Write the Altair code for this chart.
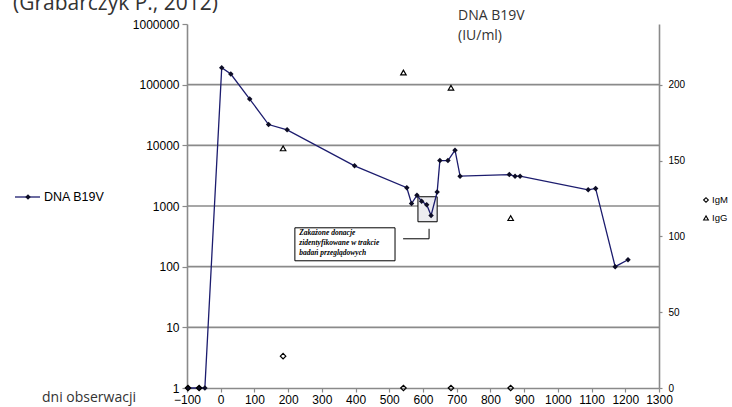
import altair as alt
import pandas as pd

# ---- data ----
dna_day = [-97, -64, -47, 3, 30, 86, 142, 197, 397, 552, 566, 582, 596, 611, 624, 642, 650, 674, 695, 710, 856, 873, 888, 1090, 1112, 1170, 1208]
dna_val = [1, 1, 1, 190000, 150000, 58000, 22000, 18000, 4600, 2000, 1100, 1500, 1200, 1050, 700, 1700, 5600, 5600, 8300, 3100, 3300, 3100, 3100, 1850, 1950, 100, 130]

igm_day = [-97, -64, 185, 542, 683, 860]
igm_val = [0, 0, 21, 0, 0, 0]
igg_day = [185, 542, 683, 860]
igg_val = [158, 208, 198, 112]

x_ticks = list(range(-100, 1301, 100))
left_ticks = [1, 10, 100, 1000, 10000, 100000, 1000000]
right_ticks = [0, 50, 100, 150, 200]
grid_vals = [10, 100, 1000, 10000, 100000]

# annotation (in data units)
box_day = [585, 642]
box_val = [550, 1420]
note_day = [220, 517]
note_val = [125, 437]
note_lines = ["Zakażone donacje", "zidentyfikowane w trakcie", "badań przeglądowych"]
note_line_val = [361, 247, 169]
note_text_day = 233
lead_day = [541, 618]
lead_val = [288, 421]

GRAY = "#8a8a8a"
FONT = "Liberation Sans"
SANS2 = "Open Sans"

xscale = alt.Scale(domain=[-100, 1300], nice=False, zero=False)
X = alt.X("day:Q", scale=xscale, title=None,
          axis=alt.Axis(values=x_ticks, format="d", domainColor=GRAY, domainWidth=1.6,
                        tickColor=GRAY, tickSize=4, tickWidth=1.2, labelFontSize=12,
                        labelFont=FONT, labelColor="black", labelPadding=2, grid=False,
                        labelFlush=False))
lscale = alt.Scale(type="log", domain=[1, 1000000], nice=False)
YL = alt.Y("val:Q", scale=lscale, title=None,
           axis=alt.Axis(values=left_ticks, format="d", domainColor=GRAY, domainWidth=1.6,
                         tickColor=GRAY, tickSize=5, tickWidth=1.2, labelFontSize=12,
                         labelFont=FONT, labelColor="black", labelPadding=3, grid=False))

dna = pd.DataFrame({"day": dna_day, "val": dna_val})
grid = pd.DataFrame({"val": grid_vals})
box = pd.DataFrame({"day": [box_day[0]], "day2": [box_day[1]], "val": [box_val[0]], "val2": [box_val[1]]})
note = pd.DataFrame({"day": [note_day[0]], "day2": [note_day[1]], "val": [note_val[0]], "val2": [note_val[1]]})
notetxt = pd.DataFrame({"day": [note_text_day] * 3, "val": note_line_val, "t": note_lines})
lead_v = pd.DataFrame({"day": [lead_day[1]], "val": [lead_val[0]], "val2": [lead_val[1]]})
lead_h = pd.DataFrame({"day": [lead_day[0]], "day2": [lead_day[1]], "val": [lead_val[0]]})

grid_l = alt.Chart(grid).mark_rule(color=GRAY, strokeWidth=1.6).encode(y=YL)
box_l = alt.Chart(box).mark_rect(fill="#ececf0", stroke="black", strokeWidth=1).encode(
    x=X, x2="day2:Q", y=YL, y2="val2:Q")
note_l = alt.Chart(note).mark_rect(fill="white", stroke="black", strokeWidth=1).encode(
    x=X, x2="day2:Q", y=YL, y2="val2:Q")
leadv_l = alt.Chart(lead_v).mark_rule(color="black", strokeWidth=1).encode(x=X, y=YL, y2="val2:Q")
leadh_l = alt.Chart(lead_h).mark_rule(color="black", strokeWidth=1).encode(x=X, x2="day2:Q", y=YL)
notetxt_l = alt.Chart(notetxt).mark_text(align="left", baseline="middle", font="Liberation Serif",
                                         fontSize=7.5, fontWeight="bold", fontStyle="italic",
                                         color="black").encode(x=X, y=YL, text="t:N")
line_l = alt.Chart(dna).mark_line(color="#1c1c6e", strokeWidth=1.3).encode(x=X, y=YL)
pts_l = alt.Chart(dna).mark_point(shape="diamond", filled=True, color="#0d0d26", size=30, opacity=1).encode(x=X, y=YL)

left = alt.layer(grid_l, box_l, line_l, pts_l, note_l, leadv_l, leadh_l, notetxt_l)

ig = pd.DataFrame({"day": igm_day + igg_day, "v": igm_val + igg_val,
                   "kind": ["IgM"] * len(igm_day) + ["IgG"] * len(igg_day)})
YR = alt.Y("v:Q", scale=alt.Scale(domain=[0, 240], nice=False, zero=True), title=None,
           axis=alt.Axis(orient="right", values=right_ticks, domainColor=GRAY, domainWidth=1.6,
                         tickColor=GRAY, tickSize=3, tickWidth=1.2, labelFontSize=10,
                         labelFont=FONT, labelColor="black", labelPadding=6, grid=False))
right = alt.Chart(ig).mark_point(filled=False, color="black", strokeWidth=1.2, size=30, opacity=1).encode(
    x=X, y=YR,
    shape=alt.Shape("kind:N", scale=alt.Scale(domain=["IgM", "IgG"], range=["diamond", "triangle-up"]), legend=None))


def txt(s, x, y, size, font=SANS2, color="#333333", align="left", baseline="alphabetic", weight="normal"):
    return alt.Chart(pd.DataFrame({"t": [s]})).mark_text(
        align=align, baseline=baseline, fontSize=size, font=font, color=color, fontWeight=weight
    ).encode(x=alt.value(x), y=alt.value(y), text="t:N")


title_t = txt("(Grabarczyk P., 2012)", -174, -14, 21)
unit1 = txt("DNA B19V", 271, -4, 14)
unit2 = txt("(IU/ml)", 271, 16, 14)
xlab = txt("dni obserwacji", -145, 378, 14)

leg_line = alt.Chart(pd.DataFrame({"a": [0]})).mark_rule(color="#1c1c6e", strokeWidth=1.3).encode(
    x=alt.value(-172), x2=alt.value(-147), y=alt.value(173))
leg_pt = alt.Chart(pd.DataFrame({"a": [0]})).mark_point(shape="diamond", filled=True, color="#0d0d26", size=30, opacity=1).encode(
    x=alt.value(-159), y=alt.value(173))
leg_txt = txt("DNA B19V", -143, 173, 12.5, font=FONT, color="black", baseline="middle")

legr_m = alt.Chart(pd.DataFrame({"a": [0]})).mark_point(shape="diamond", filled=False, color="black", size=22, strokeWidth=1.1, opacity=1).encode(
    x=alt.value(519), y=alt.value(176))
legr_g = alt.Chart(pd.DataFrame({"a": [0]})).mark_point(shape="triangle-up", filled=False, color="black", size=22, strokeWidth=1.1, opacity=1).encode(
    x=alt.value(519), y=alt.value(194))
legr_mt = txt("IgM", 525, 176, 9.5, font=FONT, color="black", baseline="middle")
legr_gt = txt("IgG", 525, 194, 9.5, font=FONT, color="black", baseline="middle")

chart = alt.layer(left, right, title_t, unit1, unit2, xlab, leg_line, leg_pt, leg_txt,
                  legr_m, legr_g, legr_mt, legr_gt).resolve_scale(y="independent").properties(
    width=472, height=364,
    autosize=alt.AutoSizeParams(type="none"),
    padding={"left": 187, "top": 24, "right": 73, "bottom": 19},
    background="white",
).configure_view(stroke=None)

chart.save("out.html", embed_options={"renderer": "svg", "actions": False})
